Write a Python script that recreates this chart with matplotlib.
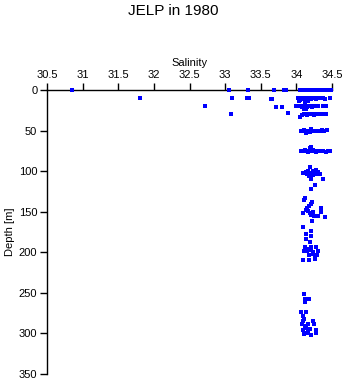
import matplotlib
matplotlib.use("Agg")
import matplotlib.pyplot as plt

plt.rcParams["font.family"] = ["Liberation Sans", "DejaVu Sans"]

# salinity / depth pairs, grouped by depth level
sal_0   = [30.85, 33.05, 33.32, 33.69, 33.82, 33.86, 34.05, 34.07, 34.10, 34.12, 34.15,
           34.18, 34.20, 34.22, 34.25, 34.28, 34.30, 34.33, 34.36, 34.38, 34.40, 34.43,
           34.46, 34.49]
dep_0   = [0] * len(sal_0)

sal_10  = [31.81, 33.10, 33.30, 33.33, 33.64, 33.66, 34.02, 34.05, 34.08, 34.10, 34.13,
           34.15, 34.18, 34.20, 34.22, 34.25, 34.27, 34.30, 34.35, 34.38, 34.40, 34.47,
           34.03, 34.12, 34.16]
dep_10  = [10, 10, 10, 10, 11, 11, 10, 12, 10, 11, 10,
           12, 10, 11, 10, 10, 11, 10, 10, 10, 11, 10,
           14, 15, 13]

sal_20  = [32.72, 33.72, 33.80, 34.00, 34.02, 34.05, 34.08, 34.10, 34.13, 34.15, 34.18,
           34.20, 34.22, 34.25, 34.27, 34.30, 34.38, 34.42, 34.11, 34.14]
dep_20  = [20, 21, 21, 20, 20, 20, 21, 20, 20, 21, 20,
           20, 21, 20, 20, 20, 20, 20, 23, 24]

sal_30  = [33.08, 33.88, 34.05, 34.08, 34.10, 34.13, 34.15, 34.18, 34.20, 34.23, 34.25,
           34.28, 34.30, 34.33, 34.36, 34.40, 34.42]
dep_30  = [30, 28, 33, 31, 30, 30, 31, 30, 30, 30, 31,
           30, 30, 30, 30, 30, 30]

sal_50  = [34.06, 34.08, 34.10, 34.12, 34.15, 34.17, 34.19, 34.21, 34.23, 34.26, 34.28,
           34.30, 34.33, 34.36, 34.39, 34.43, 34.14, 34.20]
dep_50  = [50, 51, 49, 50, 51, 50, 52, 50, 50, 51, 50,
           50, 50, 49, 50, 49, 53, 48]

sal_75  = [34.06, 34.09, 34.12, 34.14, 34.16, 34.18, 34.20, 34.22, 34.24, 34.26, 34.28,
           34.31, 34.34, 34.38, 34.42, 34.45, 34.47, 34.19, 34.21, 34.17]
dep_75  = [75, 75, 74, 75, 76, 75, 73, 75, 74, 75, 76,
           75, 75, 75, 76, 75, 75, 71, 70, 77]

sal_100 = [34.19, 34.09, 34.13, 34.17, 34.21, 34.24, 34.28, 34.31, 34.33, 34.21, 34.18,
           34.23, 34.37, 34.20, 34.26, 34.20, 34.15, 34.29]
dep_100 = [95, 102, 101, 100, 102, 100, 99, 101, 103, 105, 106,
           105, 110, 110, 117, 122, 103, 104]

sal_150 = [34.12, 34.11, 34.20, 34.22, 34.15, 34.17, 34.19, 34.21, 34.23, 34.25, 34.09,
           34.34, 34.35, 34.30, 34.40, 34.22, 34.18, 34.14]
dep_150 = [133, 136, 140, 138, 146, 149, 151, 154, 150, 155, 152,
           145, 150, 155, 156, 162, 143, 148]

sal_200 = [34.09, 34.20, 34.13, 34.20, 34.14, 34.19, 34.12, 34.20, 34.28, 34.10, 34.15,
           34.21, 34.23, 34.30, 34.18, 34.23, 34.26, 34.29, 34.09, 34.18, 34.26, 34.16]
dep_200 = [169, 174, 177, 180, 184, 187, 193, 193, 193, 198, 199,
           197, 200, 199, 203, 202, 204, 203, 209, 209, 208, 196]

sal_300 = [34.11, 34.12, 34.18, 34.12, 34.06, 34.14, 34.09, 34.11, 34.09, 34.23, 34.08,
           34.16, 34.25, 34.12, 34.14, 34.09, 34.17, 34.27, 34.11, 34.21, 34.27, 34.15,
           34.19]
dep_300 = [251, 257, 257, 261, 273, 273, 278, 282, 285, 285, 288,
           288, 288, 291, 293, 296, 297, 296, 301, 302, 300, 299, 294]

salinity = sal_0 + sal_10 + sal_20 + sal_30 + sal_50 + sal_75 + sal_100 + sal_150 + sal_200 + sal_300
depth    = dep_0 + dep_10 + dep_20 + dep_30 + dep_50 + dep_75 + dep_100 + dep_150 + dep_200 + dep_300

x_ticks = [30.5, 31, 31.5, 32, 32.5, 33, 33.5, 34, 34.5]
y_ticks = [0, 50, 100, 150, 200, 250, 300, 350]

fig = plt.figure(figsize=(3.46, 3.84), dpi=100)
fig.patch.set_facecolor("white")
ax = fig.add_axes([47 / 346, 1 - 374 / 384, 285 / 346, 284 / 384])

ax.scatter(salinity, depth, s=6, marker="s", color="#0000ff", linewidths=0,
           clip_on=False, zorder=5)

ax.set_xlim(30.5, 34.5)
ax.set_ylim(350, 0)
ax.set_xticks(x_ticks)
ax.set_xticklabels([f"{t:g}" for t in x_ticks])
ax.set_yticks(y_ticks)

ax.xaxis.tick_top()
ax.xaxis.set_label_position("top")
ax.spines["right"].set_visible(False)
ax.spines["bottom"].set_visible(False)
for sp in ("top", "left"):
    ax.spines[sp].set_linewidth(1.0)
ax.tick_params(direction="out", length=5, width=1.0, labelsize=8, pad=2)

ax.set_xlabel("Salinity", fontsize=8, labelpad=3)
ax.set_ylabel("Depth [m]", fontsize=8, labelpad=3)
fig.text(0.5, 1 - 11 / 384, "JELP in 1980", ha="center", va="center", fontsize=11)

fig.savefig("out.png", dpi=100)
